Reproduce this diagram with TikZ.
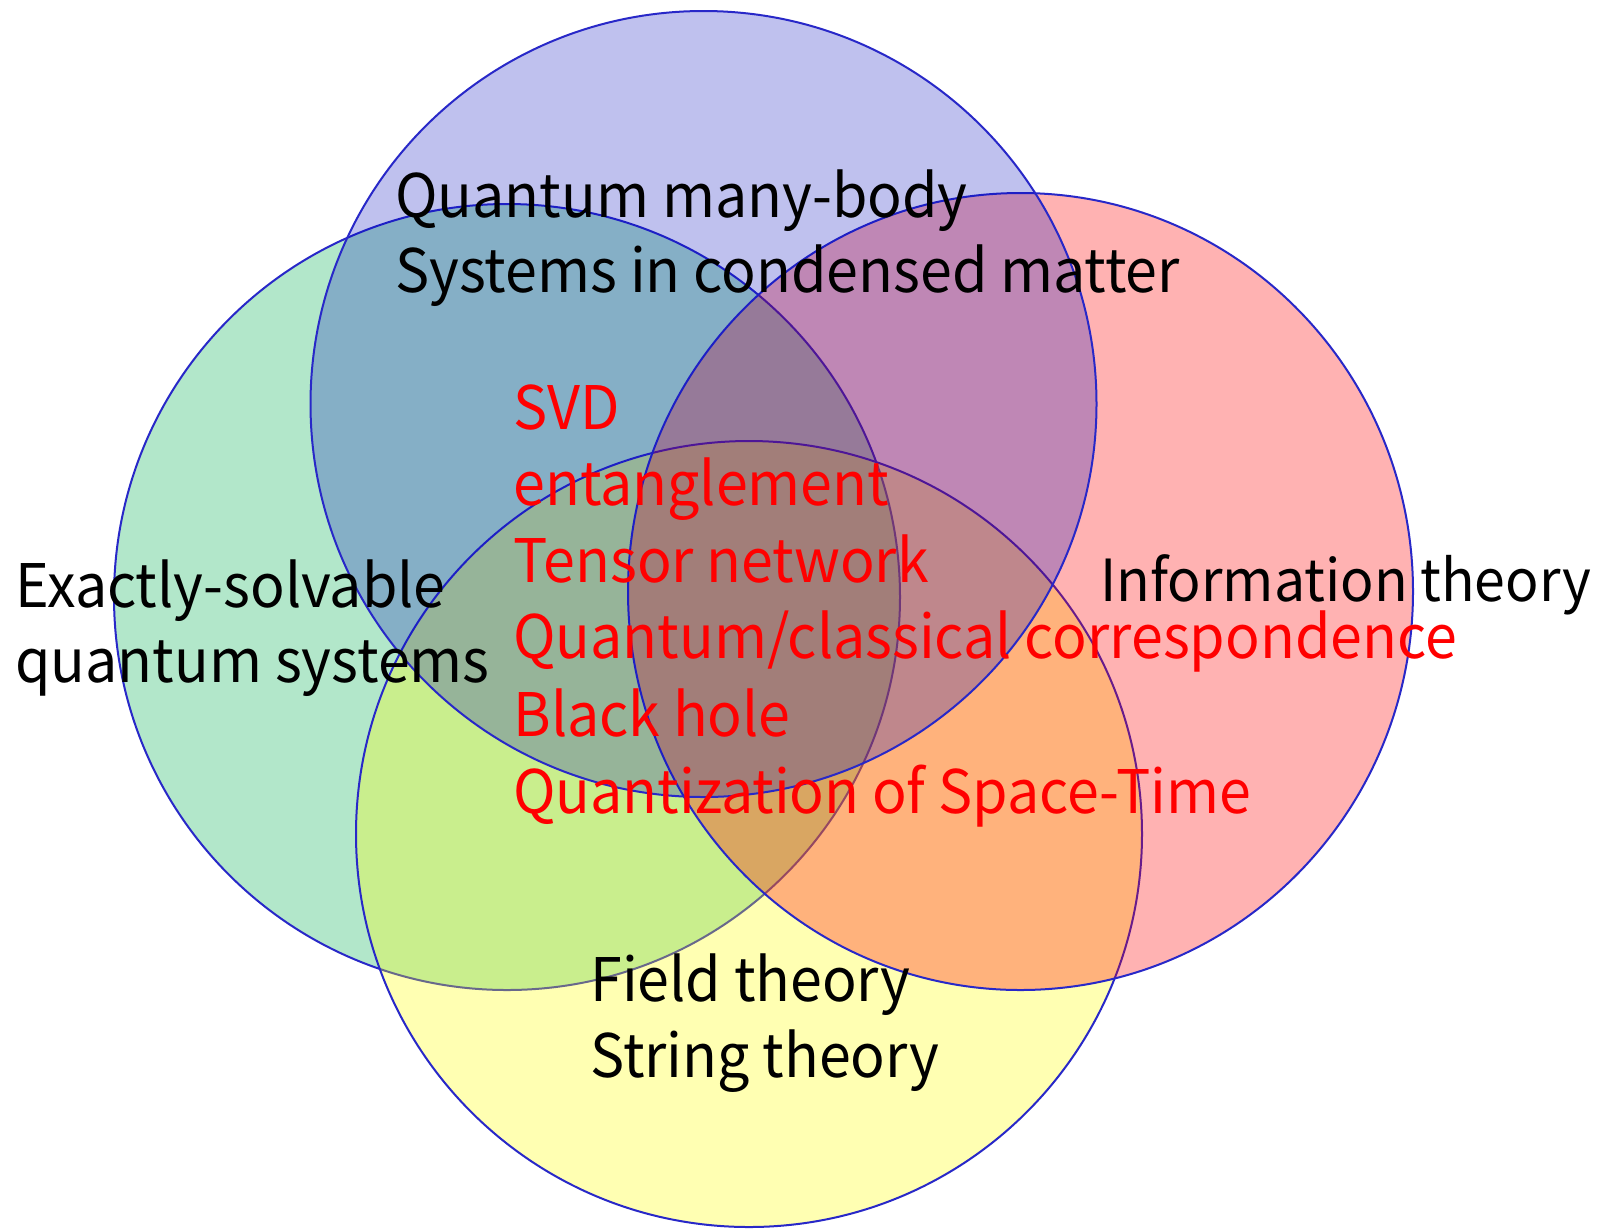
\documentclass[tikz,border=0pt]{standalone}
\usepackage{fontspec}
\setmainfont[FakeStretch=0.955]{Noto Sans CJK JP}
\definecolor{gfill}{RGB}{0,176,80}
\definecolor{bfill}{RGB}{0,8,190}
\definecolor{rfill}{RGB}{255,0,0}
\definecolor{yfill}{RGB}{255,255,0}
\definecolor{edge}{RGB}{40,40,200}
\definecolor{redtxt}{RGB}{255,0,0}
\begin{document}
\begin{tikzpicture}[x=0.5pt,y=-0.5pt,
  setshape/.style={draw=edge, line width=1pt, fill opacity=0.3},
  blk/.style={anchor=base west, inner sep=0pt, text=black, font=\fontsize{30}{36}\selectfont},
  redlbl/.style={anchor=base west, inner sep=0pt, text=redtxt, font=\fontsize{30}{36}\selectfont}]
\useasboundingbox (0,0) rectangle (1600,1228);
\fill[white] (0,0) rectangle (1600,1228);
% sets (drawing order: green, yellow, red, blue)
\path[setshape, fill=gfill] (507,597) circle[radius=196.5pt];
\path[setshape, fill=yfill] (749,834) circle[radius=196.5pt];
\path[setshape, fill=rfill] (1020.5,591.5) ellipse[x radius=196.25pt, y radius=199.25pt];
\path[setshape, fill=bfill, fill opacity=0.25] (703.5,404) circle[radius=196.5pt];
% labels
\node[blk] (qmb1) at (395,217) {Quantum many-body};
\node[blk] (qmb2) at (395,292) {Systems in condensed matter};
\node[blk] (ex1) at (15,607) {Exactly-solvable};
\node[blk] (ex2) at (15,682) {quantum systems};
\node[blk, font=\fontsize{29}{35}\selectfont] (info) at (1100,601) {Information theory};
\node[blk] (ft1) at (590,1001) {Field theory};
\node[blk] (ft2) at (590,1077) {String theory};
% central red labels
\node[redlbl] (c1) at (513,429) {SVD};
\node[redlbl] (c2) at (513,505) {entanglement};
\node[redlbl] (c3) at (513,582) {Tensor network};
\node[redlbl] (c4) at (513,658) {Quantum/classical correspondence};
\node[redlbl] (c5) at (513,736) {Black hole};
\node[redlbl] (c6) at (513,813) {Quantization of Space-Time};
\end{tikzpicture}
\end{document}
